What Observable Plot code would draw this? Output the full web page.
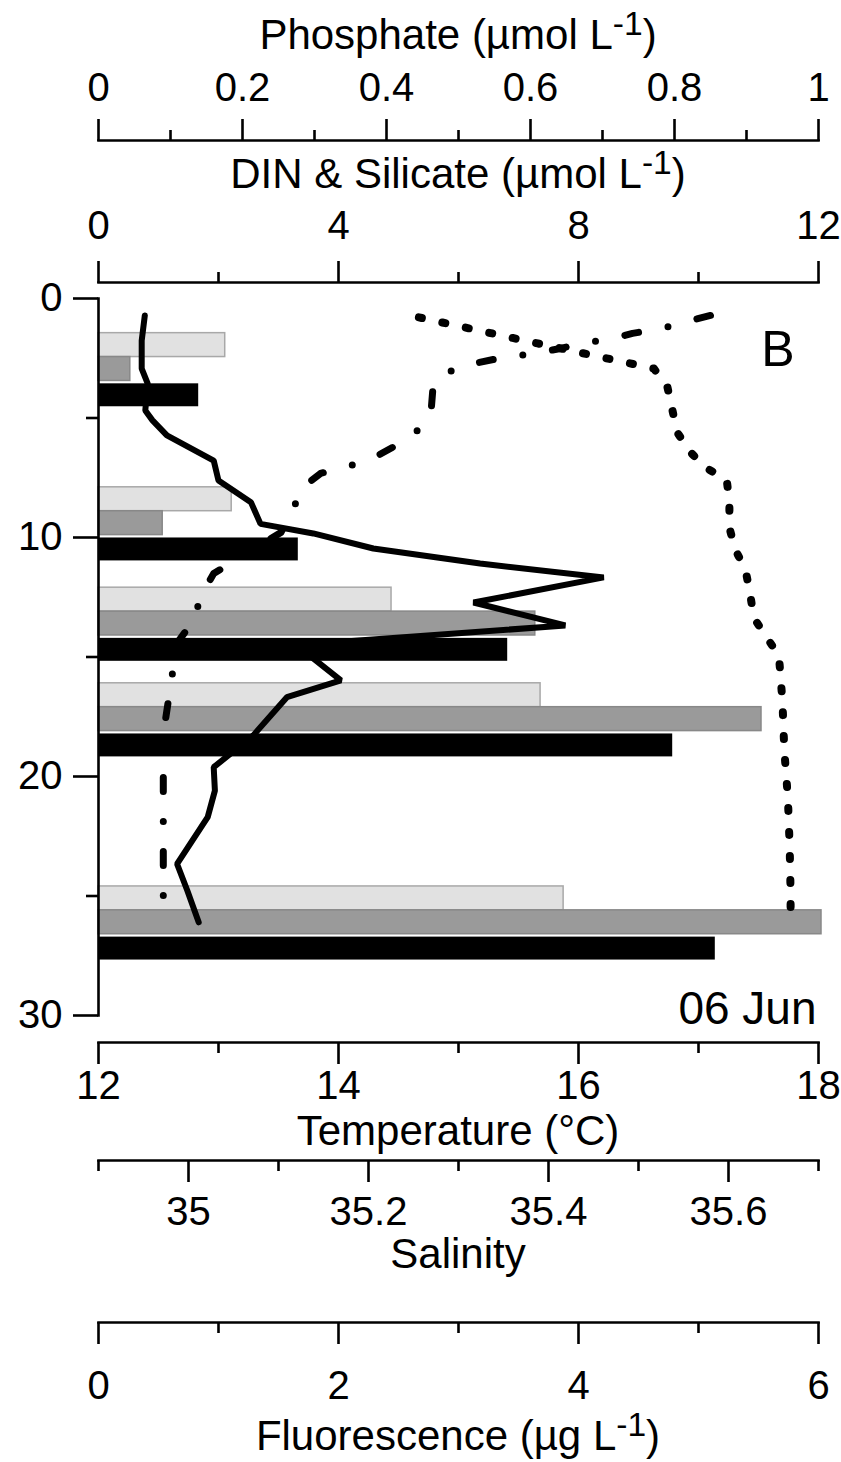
<!DOCTYPE html>
<html>
<head>
<meta charset="utf-8">
<script src="https://cdn.jsdelivr.net/npm/d3@7"></script>
<script src="https://cdn.jsdelivr.net/npm/@observablehq/plot@0.6"></script>
<style>
  body { margin: 0; background: #fff; }
  #chart { position: relative; width: 841px; height: 1462px; font-family: "Liberation Sans", Arial, sans-serif; color: #000; }
  #chart svg { position: absolute; left: 0; top: 0; }
  .title { position: absolute; left: 98px; width: 720px; text-align: center; font-size: 42px; line-height: 1; white-space: nowrap; }
  .title sup { font-size: 0.8em; line-height: 0; vertical-align: 0.42em; }
</style>
</head>
<body>
<div id="chart"></div>
<script>
// ---- Bottle nutrients (bar groups), one value per sampling depth ----
const sampleDepth = [2.95, 9.4, 13.6, 17.6, 26.1];            // m, centre of each group
const phosphate   = [0.176, 0.185, 0.407, 0.614, 0.646];       // µmol L-1, light grey
const din         = [0.53, 1.07, 7.28, 11.05, 12.05];          // µmol L-1, mid grey
const silicate    = [1.67, 3.33, 6.82, 9.57, 10.28];           // µmol L-1, black

// ---- CTD profiles ----
const fluorDepth = [0.71, 1.76, 2.93, 3.56, 4.69, 5.1, 5.73, 6.78, 7.62, 8.52, 9.43, 9.83, 10.46, 11.09, 11.67, 12.72, 13.68, 14.5, 15.98, 16.68, 18.28, 19.61, 20.59, 21.7, 23.66, 24.77, 26.1];
const fluorValue = [0.386, 0.36, 0.36, 0.41, 0.39, 0.45, 0.57, 0.96, 1.0, 1.27, 1.35, 1.79, 2.29, 3.18, 4.21, 3.125, 3.89, 1.65, 2.02, 1.57, 1.29, 0.96, 0.97, 0.91, 0.655, 0.74, 0.835];

const tempDepth = [0.71, 0.92, 1.26, 1.46, 1.67, 1.88, 2.09, 2.3, 2.47, 2.72, 2.89, 3.56, 4.81, 5.44, 6.15, 6.78, 6.99, 7.32, 8.03, 8.79, 9.79, 11.51, 12.55, 13.35, 14.31, 15.56, 17.57, 19.75, 23.0, 26.15];
const tempValue = [17.1, 16.93, 16.69, 16.45, 16.29, 16.03, 15.85, 15.63, 15.37, 15.13, 14.98, 14.79, 14.77, 14.68, 14.48, 14.25, 14.1, 13.85, 13.67, 13.63, 13.52, 12.96, 12.84, 12.81, 12.67, 12.62, 12.56, 12.54, 12.54, 12.54];

const salDepth = [0.79, 1.88, 2.93, 3.68, 5.6, 6.44, 7.07, 7.57, 8.54, 9.58, 10.46, 11.38, 12.34, 13.35, 14.1, 14.94, 15.9, 16.9, 18.9, 20.9, 22.97, 24.9, 25.94];
const salValue = [35.256, 35.388, 35.517, 35.532, 35.543, 35.558, 35.574, 35.598, 35.601, 35.601, 35.607, 35.619, 35.624, 35.628, 35.641, 35.656, 35.658, 35.66, 35.662, 35.666, 35.668, 35.669, 35.669];

// ---- Axis ticks ----
const depthMajor = [0, 10, 20, 30], depthMinor = [5, 15, 25];
const phosMajor = [0, 0.2, 0.4, 0.6, 0.8, 1], phosMinor = [0.1, 0.3, 0.5, 0.7, 0.9];
const nutMajor = [0, 4, 8, 12], nutMinor = [2, 6, 10];
const tempMajor = [12, 14, 16, 18], tempMinor = [13, 15, 17];
const salMajor = [35, 35.2, 35.4, 35.6], salMinor = [34.9, 35.1, 35.3, 35.5, 35.7];
const fluorMajor = [0, 2, 4, 6], fluorMinor = [1, 3, 5];

// ---- Text ----
const panelLetter = "B";
const dateLabel = "06 Jun";
const axisTitles = [
  {html: "Phosphate (µmol L<sup>-1</sup>)", top: 14},
  {html: "DIN &amp; Silicate (µmol L<sup>-1</sup>)", top: 153},
  {html: "Temperature (°C)", top: 1110},
  {html: "Salinity", top: 1233},
  {html: "Fluorescence (µg L<sup>-1</sup>)", top: 1415}
];

// ---- Layout ----
const W = 841, H = 1462, ML = 98, MR = 23;
const Y_TOP = 298, Y_BOTTOM = 1015;
const AX = 2.6;
const FONT = '"Liberation Sans", Arial, sans-serif';

const rows = (depths, values) => depths.map((d, i) => ({depth: d, value: values[i]}));
const bars = (values, lo, hi) => sampleDepth.map((d, i) => ({top: d + lo, bottom: d + hi, value: values[i]}));

// Each variable gets its own transparent layer with its own x scale; all
// layers share the same depth scale and are stacked on top of each other.
function layer({x, marginTop = Y_TOP, marginBottom = H - Y_BOTTOM, yAxis = false}, marks) {
  return Plot.plot({
    width: W, height: H,
    marginLeft: ML, marginRight: MR, marginTop, marginBottom,
    x: x ? {...x, label: null} : {axis: null},
    y: {domain: [0, 30], range: [Y_TOP, Y_BOTTOM], label: null, ...(yAxis ? {} : {axis: null})},
    style: {background: "none", overflow: "visible", fontFamily: FONT, fontSize: "40px", color: "black"},
    marks
  });
}

function xAxis(anchor, major, minor, pad) {
  return [
    Plot.frame({anchor, stroke: "black", strokeWidth: AX}),
    Plot.axisX(minor, {anchor, tickSize: 11, tickFormat: () => "", strokeWidth: AX, label: null}),
    Plot.axisX(major, {anchor, tickSize: 22, tickPadding: pad, tickFormat: d => String(d), strokeWidth: AX, fontSize: 40, label: null})
  ];
}

const chart = document.getElementById("chart");

// Phosphate bars (light grey) + phosphate axis on top
chart.append(layer({x: {domain: [0, 1]}, marginTop: 140}, [
  Plot.rectX(bars(phosphate, -1.5, -0.5), {x1: 0, x2: "value", y1: "top", y2: "bottom", fill: "#e1e1e1", stroke: "#a8a8a8", strokeWidth: 1.5}),
  ...xAxis("top", phosMajor, phosMinor, 18)
]));

// DIN (mid grey) and silicate (black) bars + shared axis
chart.append(layer({x: {domain: [0, 12]}, marginTop: 282}, [
  Plot.rectX(bars(din, -0.5, 0.5), {x1: 0, x2: "value", y1: "top", y2: "bottom", fill: "#9a9a9a", stroke: "#888", strokeWidth: 1.5}),
  Plot.rectX(bars(silicate, 0.62, 1.58), {x1: 0, x2: "value", y1: "top", y2: "bottom", fill: "#000"}),
  ...xAxis("top", nutMajor, nutMinor, 22)
]));

// Depth axis, panel letter and date
chart.append(layer({yAxis: true}, [
  Plot.frame({anchor: "left", stroke: "black", strokeWidth: AX}),
  Plot.axisY(depthMinor, {anchor: "left", tickSize: 12, tickFormat: () => "", strokeWidth: AX, label: null}),
  Plot.axisY(depthMajor, {anchor: "left", tickSize: 25, tickPadding: 11, strokeWidth: AX, fontSize: 40, label: null}),
  Plot.text([panelLetter], {text: d => d, frameAnchor: "top-right", dx: -24, dy: 67, textAnchor: "end", lineAnchor: "bottom", fontSize: 50}),
  Plot.text([dateLabel], {text: d => d, frameAnchor: "bottom-right", dx: -2, dy: 8, textAnchor: "end", lineAnchor: "bottom", fontSize: 46})
]));

// Temperature: dash-dot profile
chart.append(layer({x: {domain: [12, 18]}, marginBottom: H - 1042}, [
  Plot.line(rows(tempDepth, tempValue), {x: "value", y: "depth", stroke: "black", strokeWidth: 7, strokeDasharray: "14,30,0,30", strokeLinecap: "round", strokeLinejoin: "round"}),
  ...xAxis("bottom", tempMajor, tempMinor, 6)
]));

// Salinity: dotted profile
chart.append(layer({x: {domain: [34.9, 35.7]}, marginBottom: H - 1160}, [
  Plot.line(rows(salDepth, salValue), {x: "value", y: "depth", stroke: "black", strokeWidth: 8, strokeDasharray: "3,21", strokeLinecap: "round", strokeLinejoin: "round"}),
  ...xAxis("bottom", salMajor, salMinor, 14)
]));

// Fluorescence: solid profile
chart.append(layer({x: {domain: [0, 6]}, marginBottom: H - 1322}, [
  Plot.line(rows(fluorDepth, fluorValue), {x: "value", y: "depth", stroke: "black", strokeWidth: 6, strokeLinejoin: "miter"}),
  ...xAxis("bottom", fluorMajor, fluorMinor, 26)
]));

// Axis titles (HTML so the units can carry superscripts)
for (const t of axisTitles) {
  const div = document.createElement("div");
  div.className = "title";
  div.style.top = t.top + "px";
  div.innerHTML = t.html;
  chart.append(div);
}
</script>
</body>
</html>
